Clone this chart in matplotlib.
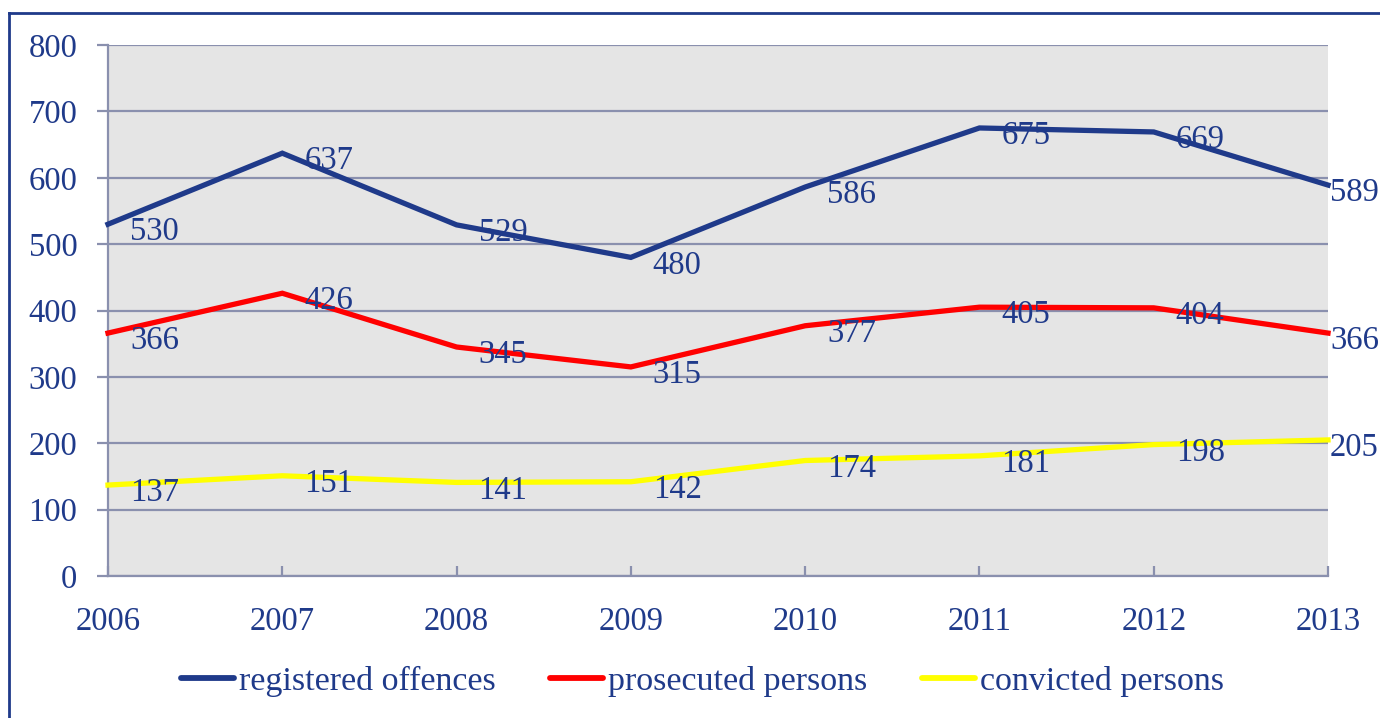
import matplotlib
matplotlib.use("Agg")
import matplotlib.pyplot as plt
from matplotlib.lines import Line2D

years = ["2006", "2007", "2008", "2009", "2010", "2011", "2012", "2013"]
registered = [530, 637, 529, 480, 586, 675, 669, 589]
prosecuted = [366, 426, 345, 315, 377, 405, 404, 366]
convicted = [137, 151, 141, 142, 174, 181, 198, 205]
series_names = ["registered offences", "prosecuted persons", "convicted persons"]
yticks = [0, 100, 200, 300, 400, 500, 600, 700, 800]

navy = "#1F3A8A"
colors = [navy, "#FF0000", "#FFFF00"]
grid_c = "#8A90AE"

plt.rcParams['font.family'] = ['Liberation Serif', 'DejaVu Serif']

fig = plt.figure(figsize=(13.8, 7.18), dpi=100)
ax = fig.add_axes([108/1380, 1-576/718, (1328-108)/1380, (576-45)/718])
ax.set_facecolor("#E5E5E5")

x = list(range(len(years)))
for vals, c in zip([registered, prosecuted, convicted], colors):
    ax.plot(x, vals, color=c, lw=3.8, solid_joinstyle='miter', zorder=3, clip_on=False)
    for i, v in enumerate(vals):
        dx = 2 if i == len(vals) - 1 else 22
        ax.annotate(str(v), (i, v), xytext=(dx*0.72, -8*0.72), textcoords='offset points',
                    ha='left', va='center', fontsize=23.5, color=navy, zorder=4,
                    annotation_clip=False)

ax.set_xlim(0, len(years) - 1)
ax.set_ylim(0, 800)
ax.set_yticks(yticks)
ax.set_yticklabels([str(t) for t in yticks])
ax.set_xticks(x)
ax.set_xticklabels(years)
ax.grid(axis='y', color=grid_c, lw=1.6, zorder=1)
ax.set_axisbelow(True)
for s in ['top', 'right']:
    ax.spines[s].set_visible(False)
for s in ['left', 'bottom']:
    ax.spines[s].set_color(grid_c)
    ax.spines[s].set_linewidth(1.6)
ax.tick_params(axis='y', direction='out', length=8, width=1.6, color=grid_c,
               labelsize=23.5, labelcolor=navy, pad=14)
ax.tick_params(axis='x', direction='in', length=7, width=1.6, color=grid_c,
               labelsize=23.5, labelcolor=navy, pad=22)

handles = [Line2D([0], [0], color=c, lw=4.2, solid_capstyle='round') for c in colors]
fig.legend(handles, series_names, loc='center', bbox_to_anchor=(0.509, 1-681/718),
           ncol=3, frameon=False, fontsize=24.5, labelcolor=navy,
           handlelength=1.55, handletextpad=0.15, columnspacing=1.6)

# outer frame (partially visible)
fig.add_artist(Line2D([9/1380, 1.0], [1-13/718, 1-13/718], color=navy, lw=2,
                      transform=fig.transFigure))
fig.add_artist(Line2D([9/1380, 9/1380], [0, 1-13/718], color=navy, lw=2,
                      transform=fig.transFigure))

fig.savefig("out.png", dpi=100)
